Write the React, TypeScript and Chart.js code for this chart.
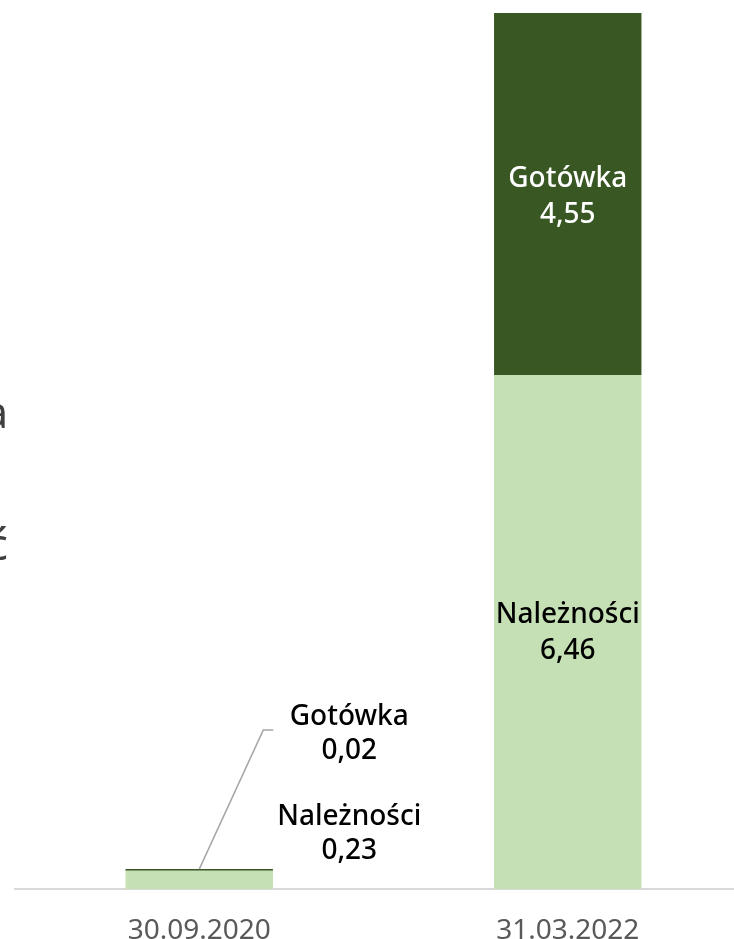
import React, { useEffect, useRef } from 'react';
import { Chart, registerables } from 'chart.js';

Chart.register(...registerables);

const categories = ['30.09.2020', '31.03.2022'];
const receivables = [0.23, 6.46]; // Należności
const cash = [0.02, 4.55]; // Gotówka
const seriesNames = ['Należności', 'Gotówka'];
const legendLabels = ['Gotówka', 'Należność'];

const DARK = '#385723';
const LIGHT = '#C5E0B4';
const FONT = '"Noto Sans", "Open Sans", sans-serif';

const fmt = (v: number) => v.toFixed(2).replace('.', ',');

const labelPlugin = {
  id: 'segLabels',
  afterDatasetsDraw(chart: any) {
    const ctx = chart.ctx;
    ctx.save();
    ctx.font = `500 28px ${FONT}`;
    ctx.textAlign = 'center';
    ctx.textBaseline = 'middle';
    chart.data.datasets.forEach((ds: any, di: number) => {
      const meta = chart.getDatasetMeta(di);
      meta.data.forEach((el: any, j: number) => {
        const { x, y, base } = el.getProps(['x', 'y', 'base'], true);
        const h = Math.abs(base - y);
        const name = ds.label;
        const val = fmt(ds.data[j]);
        if (h > 80) {
          const cy = (y + base) / 2 + (di === 1 ? 3 : 1);
          ctx.fillStyle = di === 1 ? '#FFFFFF' : '#000000';
          ctx.fillText(name, x, cy - 18);
          ctx.fillText(val, x, cy + 18);
        } else {
          const topMeta = chart.getDatasetMeta(chart.data.datasets.length - 1);
          const topY = topMeta.data[j].getProps(['y'], true).y;
          const lx = x + 150;
          const cy = di === 1 ? topY - 135 : topY - 35;
          ctx.fillStyle = '#000000';
          ctx.fillText(name, lx, cy - 17);
          ctx.fillText(val, lx, cy + 17);
          if (di === 1) {
            ctx.strokeStyle = '#A6A6A6';
            ctx.lineWidth = 1.5;
            ctx.beginPath();
            ctx.moveTo(x, topY);
            ctx.lineTo(x + 64, topY - 139);
            ctx.lineTo(x + 74, topY - 139);
            ctx.stroke();
          }
        }
      });
    });
    ctx.restore();
  },
};

const legendPlugin = {
  id: 'sideLegend',
  afterDraw(chart: any) {
    const ctx = chart.ctx;
    ctx.save();
    ctx.font = `43px ${FONT}`;
    ctx.fillStyle = '#404040';
    ctx.textAlign = 'right';
    ctx.textBaseline = 'alphabetic';
    ctx.fillText(legendLabels[0], 8, 428);
    ctx.fillText(legendLabels[1], 8, 560);
    ctx.restore();
  },
};

export default function App() {
  const ref = useRef<HTMLCanvasElement | null>(null);
  useEffect(() => {
    if (!ref.current) return;
    const totals = receivables.map((v, i) => v + cash[i]);
    const chart = new Chart(ref.current, {
      type: 'bar',
      data: {
        labels: categories,
        datasets: [
          {
            label: seriesNames[0],
            data: receivables,
            backgroundColor: LIGHT,
            borderWidth: 0,
            barPercentage: 0.4,
            categoryPercentage: 1,
          },
          {
            label: seriesNames[1],
            data: cash,
            backgroundColor: DARK,
            borderWidth: 0,
            barPercentage: 0.4,
            categoryPercentage: 1,
          },
        ],
      },
      options: {
        responsive: false,
        animation: false,
        devicePixelRatio: 1,
        layout: { padding: { left: 15, right: 8, top: 13, bottom: 0 } },
        plugins: { legend: { display: false }, tooltip: { enabled: false } },
        scales: {
          x: {
            stacked: true,
            grid: { display: false, drawTicks: false },
            border: { display: true, color: '#D9D9D9', width: 2 },
            ticks: { color: '#595959', font: { family: FONT, size: 28 }, padding: 25 },
            afterFit: (scale: any) => {
              scale.height = 50;
            },
          },
          y: {
            stacked: true,
            display: false,
            min: 0,
            max: Math.max(...totals),
          },
        },
      },
      plugins: [labelPlugin, legendPlugin],
    });
    return () => chart.destroy();
  }, []);
  return (
    <div
      style={{
        position: 'fixed',
        left: 0,
        top: 0,
        width: 734,
        height: 939,
        overflow: 'hidden',
        background: '#FFFFFF',
      }}
    >
      <canvas ref={ref} width={760} height={939} style={{ display: 'block' }} />
    </div>
  );
}
